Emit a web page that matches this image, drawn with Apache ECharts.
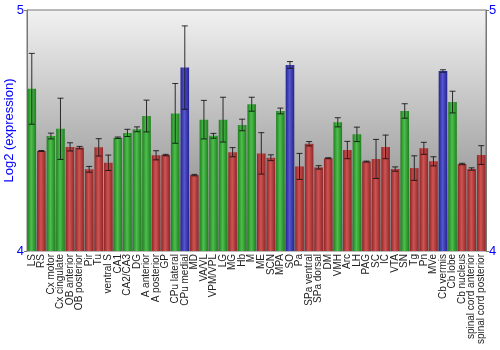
<!DOCTYPE html>
<html>
<head>
<meta charset="utf-8">
<script src="https://cdn.jsdelivr.net/npm/echarts@6/dist/echarts.min.js"></script>
<style>html,body{margin:0;padding:0;background:#fff}#c{width:500px;height:350px}</style>
</head>
<body>
<div id="c"></div>
<script>
var categories = ['LS','RS','Cx motor','Cx cingulate','OB anterior','OB posterior','Pir','Tu','ventral S','CA1','CA2/CA3','DG','A anterior','A posterior','GP','CPu lateral','CPu medial','MD','VA/VL','VPM/VPL','LG','MG','Hb','M','ME','SCN','MPA','SO','Pa','SPa ventral','SPa dorsal','DM','VMH','Arc','LH','PAG','SC','IC','VTA','SN','Tg','Pn','MVe','Cb vermis','Cb lobe','Cb nucleus','spinal cord anterior','spinal cord posterior'];
var values = [4.673,4.415,4.477,4.507,4.432,4.429,4.339,4.430,4.366,4.470,4.490,4.505,4.560,4.397,4.398,4.571,4.761,4.315,4.545,4.478,4.545,4.410,4.523,4.609,4.405,4.387,4.581,4.772,4.351,4.445,4.347,4.385,4.534,4.419,4.484,4.371,4.382,4.432,4.340,4.581,4.344,4.426,4.372,4.747,4.618,4.361,4.340,4.398];
var errors = [0.147,0.002,0.012,0.127,0.017,0.005,0.012,0.036,0.032,0.003,0.015,0.010,0.066,0.019,0.003,0.124,0.173,0.003,0.080,0.010,0.093,0.019,0.024,0.029,0.086,0.012,0.012,0.014,0.054,0.009,0.007,0.002,0.019,0.036,0.030,0.002,0.081,0.049,0.009,0.030,0.051,0.025,0.019,0.005,0.045,0.003,0.005,0.039];
var groups = ['g','r','g','g','r','r','r','r','r','g','g','g','g','r','r','g','b','r','g','g','g','r','g','g','r','r','g','b','r','r','r','r','g','r','g','r','r','r','r','g','r','r','r','b','g','r','r','r'];
var yTicks = [4, 5];

function grad(edge, mid) {
  return new echarts.graphic.LinearGradient(0, 0, 1, 0, [
    {offset: 0, color: edge}, {offset: 0.45, color: mid}, {offset: 1, color: edge}
  ]);
}
var palette = {
  g: grad('#1f7f1f', '#4dbf4d'),
  r: grad('#8f2626', '#d05454'),
  b: grad('#23238f', '#5656cf')
};
var barData = values.map(function (v, i) {
  return {value: v, itemStyle: {color: palette[groups[i]]}};
});
var errData = values.map(function (v, i) { return [i, v - errors[i], v + errors[i]]; });

var chart = echarts.init(document.getElementById('c'), null, {renderer: 'canvas'});
var yAxisBase = {
  type: 'value', min: yTicks[0], max: yTicks[yTicks.length - 1], interval: 1,
  axisLine: {show: true, lineStyle: {color: '#777'}},
  axisTick: {show: true, length: 3, lineStyle: {color: '#777'}},
  axisLabel: {color: '#0000ff', fontSize: 13, fontFamily: 'Liberation Sans', margin: 3},
  splitLine: {show: false}
};
chart.setOption({
  animation: false,
  grid: {left: 27, right: 14, top: 10, bottom: 99, containLabel: false, outerBoundsMode: 'none',
    show: true, borderColor: '#777', borderWidth: 1,
    backgroundColor: new echarts.graphic.LinearGradient(0, 0, 0, 1, [
      {offset: 0, color: '#f2f2f2'}, {offset: 1, color: '#7c7c7c'}])},
  xAxis: {
    type: 'category', data: categories,
    axisLine: {show: false}, axisTick: {show: false},
    axisLabel: {interval: 0, rotate: 90, color: '#222', fontSize: 10, fontFamily: 'Liberation Sans', margin: 3}
  },
  yAxis: [
    Object.assign({}, yAxisBase, {position: 'left', name: 'Log2 (expression)', nameLocation: 'middle', nameGap: 11,
      nameMoveOverlap: false,
      nameTextStyle: {color: '#0000ff', fontSize: 13, fontFamily: 'Liberation Sans'}}),
    Object.assign({}, yAxisBase, {position: 'right'})
  ],
  series: [
    {type: 'bar', data: barData, barCategoryGap: '10%', yAxisIndex: 0},
    {type: 'custom', data: errData, yAxisIndex: 0, z: 5,
      renderItem: function (params, api) {
        var x = api.value(0);
        var lo = api.coord([x, api.value(1)]);
        var hi = api.coord([x, api.value(2)]);
        var w = 3;
        var st = {stroke: '#111', lineWidth: 1, opacity: 0.85};
        return {type: 'group', children: [
          {type: 'line', shape: {x1: lo[0], y1: lo[1], x2: hi[0], y2: hi[1]}, style: st},
          {type: 'line', shape: {x1: lo[0] - w, y1: lo[1], x2: lo[0] + w, y2: lo[1]}, style: st},
          {type: 'line', shape: {x1: hi[0] - w, y1: hi[1], x2: hi[0] + w, y2: hi[1]}, style: st}
        ]};
      }}
  ]
});
</script>
</body>
</html>
